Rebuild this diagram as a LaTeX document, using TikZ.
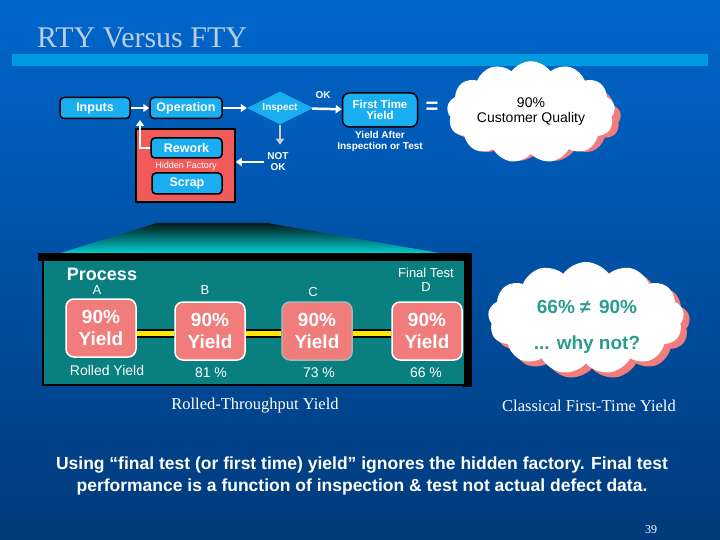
\documentclass[tikz,border=0pt]{standalone}
\usepackage{fontspec}
\setmainfont{Liberation Sans}
\newfontfamily\tnr{Liberation Serif}
\usetikzlibrary{shapes.geometric,shapes.symbols,arrows.meta}
\definecolor{bgtop}{HTML}{0066CC}
\definecolor{bgbot}{HTML}{003A7A}
\definecolor{cyanbox}{HTML}{1AAEF0}
\definecolor{coral}{HTML}{F05A5A}
\definecolor{salmon}{HTML}{F07C7C}
\definecolor{teal}{HTML}{0A7F80}
\definecolor{cloudtxt}{HTML}{2A9D8F}
\definecolor{bar}{HTML}{0099E0}
\definecolor{titlec}{HTML}{BCCDE3}
\tikzset{
 box/.style={draw=black,line width=1.5pt,fill=cyanbox,rounded corners=4pt,text=white,font=\bfseries\fontsize{12.5}{13}\selectfont,align=center,inner sep=0pt},
 wtxt/.style={text=white,font=\bfseries\fontsize{10}{11}\selectfont,align=center},
 arr/.style={white,line width=2.5pt,-{Triangle[length=6pt,width=8pt]}},
 ybox/.style={draw=white,line width=1.5pt,fill=salmon,rounded corners=8pt,text=white,font=\bfseries\fontsize{19}{22}\selectfont,align=center,minimum width=70pt,minimum height=58pt,inner sep=0pt},
 lab/.style={text=white,font=\fontsize{13}{14}\selectfont},
 ylink/.style={line width=9pt,black},
 ylinkin/.style={line width=5pt,yellow!90!orange},
 cl/.style={cloud,cloud puffs=13,cloud puff arc=110,aspect=1.8,fill=white,inner sep=0pt},
}
\begin{document}
\begin{tikzpicture}[x=1pt,y=-1pt]
\useasboundingbox (0,0) rectangle (720,540);
\shade[top color=bgtop,bottom color=bgbot] (0,0) rectangle (720,540);
\node[anchor=base west,text=titlec,font=\tnr\fontsize{30}{30}\selectfont,inner sep=0pt] (title) at (37,48) {RTY Versus FTY};
\fill[bar] (12,54) rectangle (708,66);
\node[box,minimum width=70pt,minimum height=21pt] (in) at (95,108) {Inputs};
\node[box,minimum width=72pt,minimum height=21pt] (op) at (186,108) {Operation};
\node[diamond,fill=cyanbox,minimum width=66pt,minimum height=33pt,aspect=2,inner sep=0pt,text=white,font=\bfseries\fontsize{10}{11}\selectfont] (insp) at (280,108) {Inspect};
\node[box,minimum width=75pt,minimum height=34pt,rounded corners=7pt,font=\bfseries\fontsize{11.5}{11.5}\selectfont] (fty) at (380,110) {First Time\\Yield};
\node[text=white,font=\bfseries\fontsize{22}{22}\selectfont] (eq) at (432,108) {=};
\node[wtxt] (ok) at (323,95) {OK};
\node[wtxt] (ya) at (380,141) {Yield After\\Inspection or Test};
\node[wtxt] (nok) at (278,162) {NOT\\OK};
\node[draw=black,line width=1.5pt,fill=coral,minimum width=99pt,minimum height=73pt,inner sep=0pt] (hf) at (185.5,165.5) {};
\node[box,minimum width=71pt,minimum height=20pt] (rw) at (186.5,148) {Rework};
\node[text=white,font=\fontsize{9}{9}\selectfont] (hft) at (186,166) {Hidden Factory};
\node[box,minimum width=70pt,minimum height=21pt] (sc) at (187,183.5) {Scrap};
\draw[arr] (in) -- (op);
\draw[arr] (op) -- (insp);
\draw[arr] (insp) -- (fty);
\draw[arr,draw=gray!40,-{Triangle[length=6pt,width=8pt]}] (insp.south) -- ++(0,20) coordinate (d1);
\draw[arr] (nok.west) -- (hf.east |- nok.west);
\draw[arr] (rw.west) -- (140,148) -- (140,120);
\shade[top color=black!80!teal,bottom color=cyan!80!teal] (157,223) -- (267,223) -- (462,257) -- (48,257) -- cycle;
\fill[black] (38,253) rectangle (472,261);
\fill[black] (462,261) rectangle (472,387);
\node[draw=black,line width=1.5pt,fill=teal,minimum width=422pt,minimum height=125pt,inner sep=0pt] (panel) at (254,322.5) {};
\node[text=white,font=\bfseries\fontsize{18}{18}\selectfont] (proc) at (102,274) {Process};
\node[lab] (la) at (97,290) {A};
\node[lab] (lb) at (205,290) {B};
\node[lab] (lc) at (313,292) {C};
\node[lab,align=center] (ld) at (426,280) {Final Test\\D};
\node[ybox] (ya1) at (101,328) {90\%\\Yield};
\node[ybox] (yb) at (210,331) {90\%\\Yield};
\node[ybox,draw=gray!60] (yc) at (317,331) {90\%\\Yield};
\node[ybox] (yd) at (427,331) {90\%\\Yield};
\foreach \a/\b in {ya1/yb,yb/yc,yc/yd}{
 \draw[ylink] (\a.east |- 0,333) -- (\b.west |- 0,333);
 \draw[ylinkin] (\a.east |- 0,333) -- (\b.west |- 0,333);}
\node[lab,font=\fontsize{14}{14}\selectfont] (rly) at (107,370) {Rolled Yield};
\node[lab,font=\fontsize{14}{14}\selectfont] (p81) at (211,373) {81 \%};
\node[lab,font=\fontsize{14}{14}\selectfont] (p73) at (319,373) {73 \%};
\node[lab,font=\fontsize{14}{14}\selectfont] (p66) at (426,373) {66 \%};
\node[cl,fill=salmon,minimum width=168pt,minimum height=88pt] (c1s) at (537,118) {};
\node[cl,minimum width=168pt,minimum height=88pt,font=\fontsize{14}{15}\selectfont,align=center] (c1) at (531,112) {90\%\\Customer Quality};
\node[cl,fill=salmon,minimum width=196pt,minimum height=112pt] (c2s) at (592,323) {};
\node[cl,minimum width=196pt,minimum height=112pt] (c2) at (586,318) {};
\node[text=cloudtxt,font=\bfseries\fontsize{19}{19}\selectfont] (c2a) at (587,307) {66\% ≠\, 90\%};
\node[text=cloudtxt,font=\bfseries\fontsize{19}{19}\selectfont] (c2b) at (587,345) {... why not?};
\node[text=white,font=\tnr\fontsize{16.5}{16.5}\selectfont] (cap1) at (255,406) {Rolled-Throughput Yield};
\node[text=white,font=\tnr\fontsize{16.5}{16.5}\selectfont] (cap2) at (589,406) {Classical First-Time Yield};
\node[text=white,font=\bfseries\fontsize{17.5}{22}\selectfont,align=center] (bt) at (362,476) {Using “final test (or first time) yield” ignores the hidden factory.  Final test\\performance is a function of inspection \& test not actual defect data.};
\node[text=white,font=\tnr\fontsize{12}{12}\selectfont] (pg) at (651,530) {39};
\end{tikzpicture}
\end{document}
